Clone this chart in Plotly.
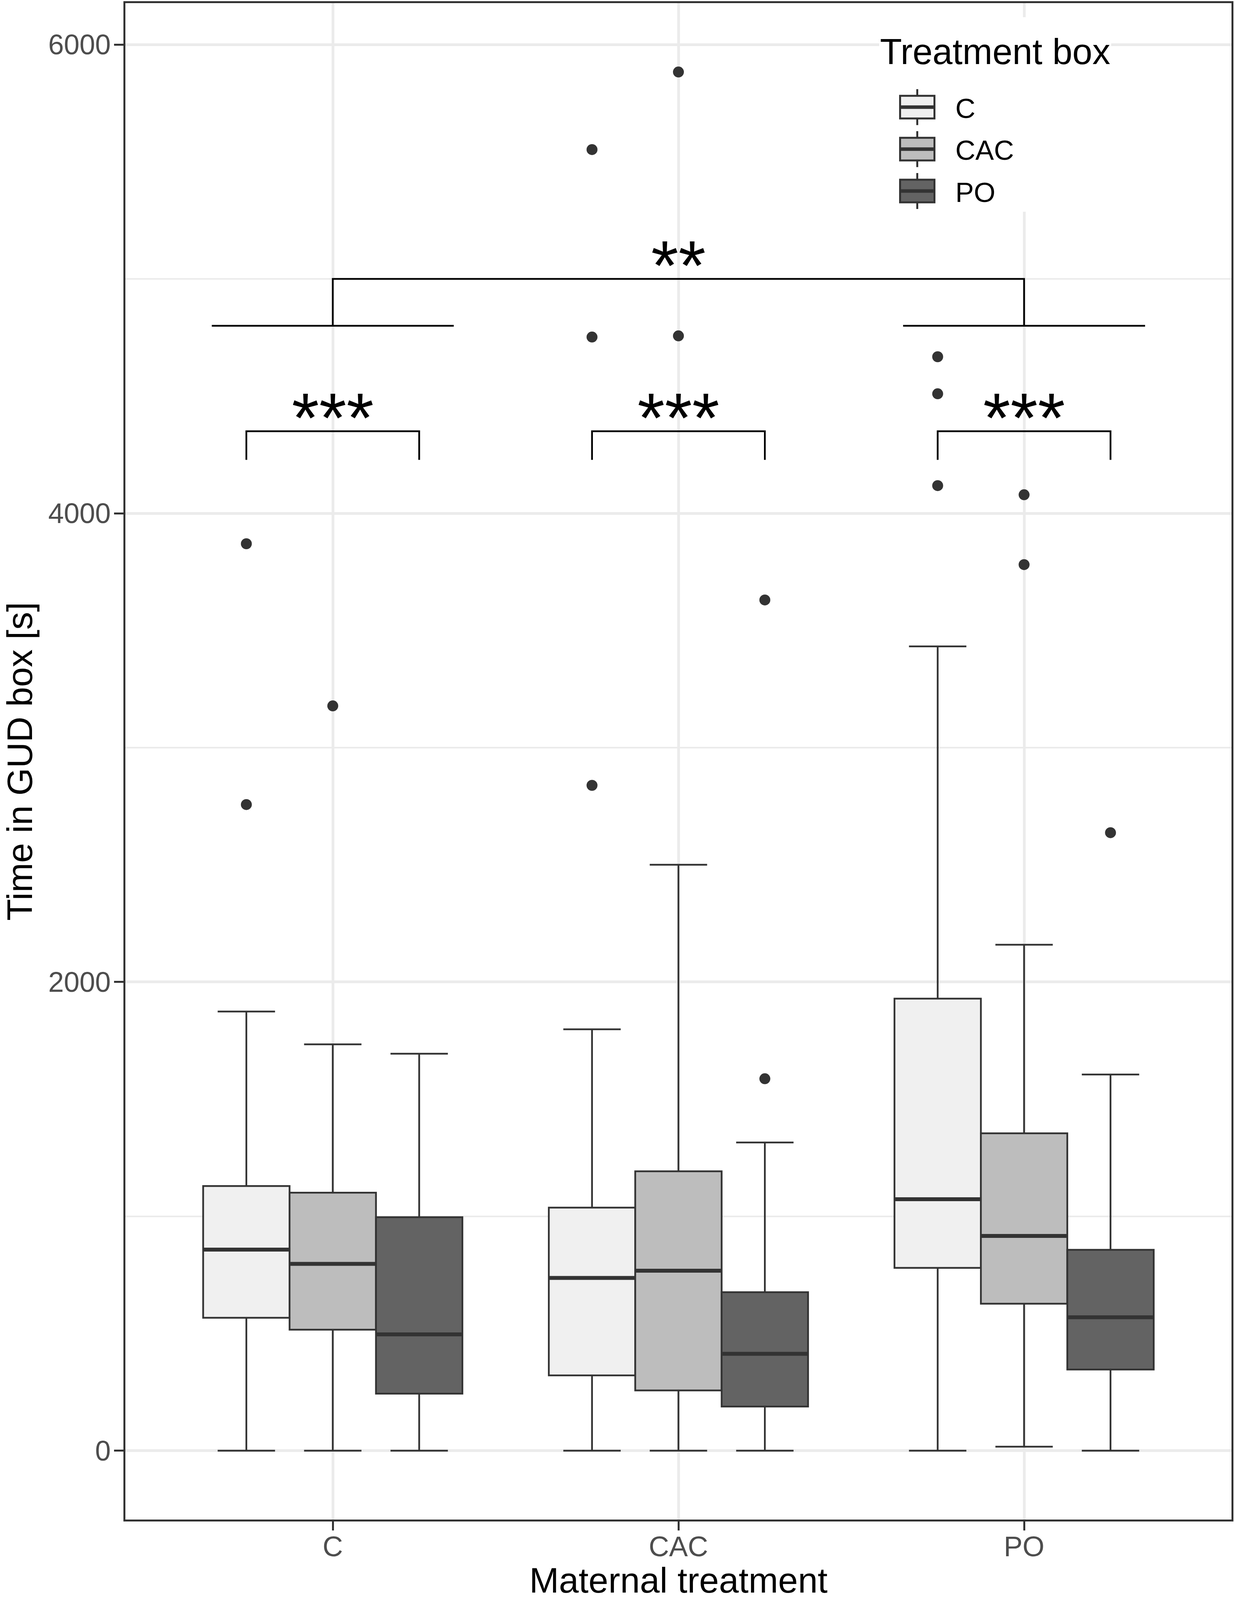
import plotly.graph_objects as go

# ---------------- data ----------------
maternal = ["C", "CAC", "PO"]          # x categories (maternal treatment)
maternal_pos = [1, 2, 3]
box_series = ["C", "CAC", "PO"]        # treatment box (fill groups)
fill_colors = ["#F0F0F0", "#BDBDBD", "#636363"]

# box statistics per treatment box, ordered by maternal treatment C, CAC, PO
lower_C = [0, 0, 0]
q1_C = [567, 321, 780]
med_C = [858, 737, 1073]
q3_C = [1129, 1037, 1929]
upper_C = [1874, 1798, 3432]

lower_CAC = [0, 0, 17]
q1_CAC = [516, 257, 627]
med_CAC = [797, 768, 916]
q3_CAC = [1101, 1192, 1354]
upper_CAC = [1734, 2500, 2159]

lower_PO = [0, 0, 0]
q1_PO = [243, 188, 346]
med_PO = [496, 413, 569]
q3_PO = [996, 676, 857]
upper_PO = [1694, 1315, 1605]

# outliers: maternal group index and value
out_C_group = [0, 0, 1, 1, 1, 2, 2, 2]
out_C_value = [3870, 2757, 2839, 4752, 5552, 4118, 4510, 4668]
out_CAC_group = [0, 1, 1, 2, 2]
out_CAC_value = [3178, 4757, 5883, 3781, 4079]
out_PO_group = [1, 1, 2]
out_PO_value = [1587, 3630, 2637]

# significance annotations
inner_sig_labels = ["***", "***", "***"]
inner_bracket_top = 4350
inner_bracket_tip = 4228
outer_sig_label = "**"
outer_bracket_top = 5000
outer_bracket_tip = 4800
outer_groups = [1, 3]        # maternal positions joined by the outer bracket

y_ticks = [0, 2000, 4000, 6000]
y_tick_labels = ["0", "2000", "4000", "6000"]

# ---------------- styling constants ----------------
W, H = 3162, 4096            # browser viewport measured in a previous run
SV = H / 4261                # vertical scale relative to the reference image
DODGE = 0.25
BOX_HALF = 0.125
GROUP_HALF = 0.35
FONT = "Liberation Sans, Arial, sans-serif"
DARK = "#333333"

stats = {
    "C": (lower_C, q1_C, med_C, q3_C, upper_C),
    "CAC": (lower_CAC, q1_CAC, med_CAC, q3_CAC, upper_CAC),
    "PO": (lower_PO, q1_PO, med_PO, q3_PO, upper_PO),
}
outliers = {
    "C": (out_C_group, out_C_value),
    "CAC": (out_CAC_group, out_CAC_value),
    "PO": (out_PO_group, out_PO_value),
}

fig = go.Figure()

for k, (name, col) in enumerate(zip(box_series, fill_colors)):
    lo, q1, md, q3, up = stats[name]
    extra = {}
    if k == 0:
        extra["legendgrouptitle"] = dict(text="\u00a0", font=dict(family=FONT, size=42))
    fig.add_trace(go.Box(
        x=maternal_pos, lowerfence=lo, q1=q1, median=md, q3=q3, upperfence=up,
        name=name, legendgroup=name, fillcolor=col,
        line=dict(color=DARK, width=4.5), whiskerwidth=0.664,
        boxpoints=False, hoverinfo="y", **extra,
    ))

for i, name in enumerate(box_series):
    off = (i - 1) * DODGE
    lo, q1, md, q3, up = stats[name]
    mx, my = [], []
    for p, m in zip(maternal_pos, md):
        mx += [p + off - BOX_HALF, p + off + BOX_HALF, None]
        my += [m, m, None]
    fig.add_trace(go.Scatter(x=mx, y=my, mode="lines", line=dict(color=DARK, width=10),
                             showlegend=False, legendgroup=name, hoverinfo="skip"))
    g, v = outliers[name]
    fig.add_trace(go.Scatter(
        x=[maternal_pos[k] + off for k in g], y=v, mode="markers",
        marker=dict(color=DARK, size=28, line=dict(width=0)),
        showlegend=False, legendgroup=name, hoverinfo="y"))

# significance brackets
bx, by = [], []
for p in maternal_pos:
    l, r = p - DODGE, p + DODGE
    bx += [l, l, r, r, None]
    by += [inner_bracket_tip, inner_bracket_top, inner_bracket_top, inner_bracket_tip, None]
l, r = outer_groups
bx += [l, l, r, r, None]
by += [outer_bracket_tip, outer_bracket_top, outer_bracket_top, outer_bracket_tip, None]
for p in outer_groups:
    bx += [p - GROUP_HALF, p + GROUP_HALF, None]
    by += [outer_bracket_tip, outer_bracket_tip, None]
fig.add_trace(go.Scatter(x=bx, y=by, mode="lines", line=dict(color="black", width=4.5),
                         showlegend=False, hoverinfo="skip"))

for p, lab in zip(maternal_pos, inner_sig_labels):
    fig.add_annotation(x=p, y=inner_bracket_top, text=lab, showarrow=False,
                       yanchor="middle", yshift=35,
                       font=dict(family=FONT, size=180, color="black"))
fig.add_annotation(x=sum(outer_groups) / 2, y=outer_bracket_top, text=outer_sig_label,
                   showarrow=False, yanchor="middle", yshift=35,
                   font=dict(family=FONT, size=180, color="black"))

fig.update_layout(
    width=W, height=H,
    margin=dict(l=321, r=9, t=round(8 * SV), b=round(214 * SV), autoexpand=False),
    paper_bgcolor="white", plot_bgcolor="white",
    boxmode="group", boxgap=0.25, boxgroupgap=0,
    font=dict(family=FONT, size=72, color="black"),
    legend=dict(
        title=dict(text="Treatment box", font=dict(family=FONT, size=92, color="black")),
        font=dict(family=FONT, size=71, color="black"),
        x=0.6815, y=0.9906, xanchor="left", yanchor="top",
        bgcolor="white", borderwidth=0, tracegroupgap=12, itemwidth=185,
    ),
    xaxis=dict(
        range=[0.4, 3.6], tickmode="array", tickvals=maternal_pos, ticktext=maternal,
        showgrid=True, gridcolor="#EBEBEB", gridwidth=7, zeroline=False,
        showline=True, mirror=True, linecolor=DARK, linewidth=5,
        ticks="outside", ticklen=23, tickwidth=5, tickcolor=DARK, ticklabelstandoff=-20,
        tickfont=dict(family=FONT, size=72, color="#4D4D4D"),
        title=dict(text="Maternal treatment", font=dict(family=FONT, size=91, color="black"), standoff=36),
    ),
    yaxis=dict(
        range=[-294, 6177], tickmode="array", tickvals=y_ticks, ticktext=y_tick_labels,
        showgrid=True, gridcolor="#EBEBEB", gridwidth=7, zeroline=False,
        minor=dict(tick0=0, dtick=1000, showgrid=True, gridcolor="#EBEBEB", gridwidth=3.5, ticks=""),
        showline=True, mirror=True, linecolor=DARK, linewidth=5,
        ticks="outside", ticklen=24, tickwidth=5, tickcolor=DARK, ticklabelstandoff=-6,
        tickfont=dict(family=FONT, size=72, color="#4D4D4D"),
        title=dict(text="Time in GUD box [s]", font=dict(family=FONT, size=91, color="black"), standoff=52),
    ),
)

post = """
document.body.style.margin = '0';
var gd = document.getElementById('{plot_id}');
try {
  var NS = 'http://www.w3.org/2000/svg';
  gd.querySelectorAll('g.legend path.legendbox').forEach(function (p) {
    p.setAttribute('d', 'M44,29H-44V-29H44Z');
    p.style.strokeWidth = '5px';
    var tr = p.getAttribute('transform') || '';
    var extra = [['M-44,0H44', 9], ['M0,-29V-46M0,29V46', 5]];
    extra.forEach(function (e) {
      var q = document.createElementNS(NS, 'path');
      q.setAttribute('d', e[0]);
      q.setAttribute('transform', tr);
      q.setAttribute('fill', 'none');
      q.setAttribute('stroke', '#333333');
      q.setAttribute('stroke-width', e[1]);
      p.parentNode.appendChild(q);
    });
  });
} catch (err) {}
"""

fig.write_html("out.html", post_script=post, config={"displayModeBar": False})
